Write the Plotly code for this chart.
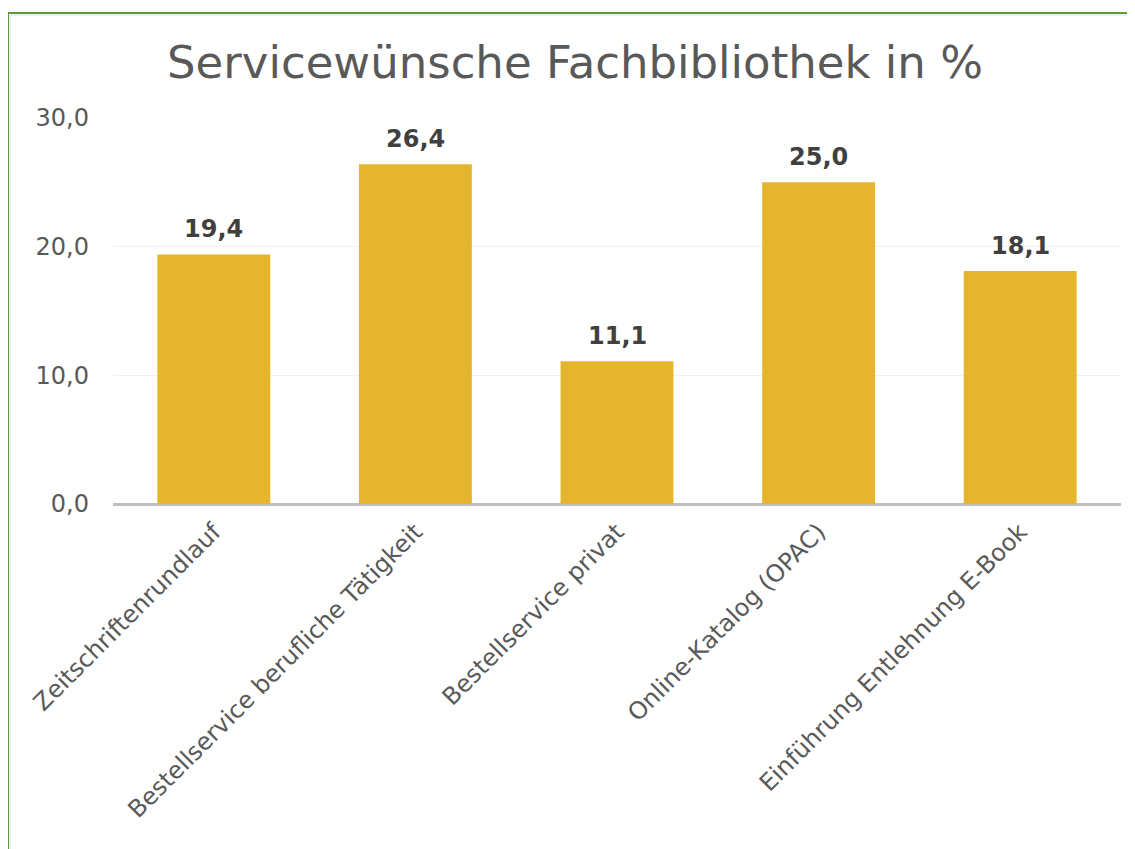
import plotly.graph_objects as go

categories = ["Zeitschriftenrundlauf", "Bestellservice berufliche Tätigkeit",
              "Bestellservice privat", "Online-Katalog (OPAC)", "Einführung Entlehnung E-Book"]
values = [19.4, 26.4, 11.1, 25.0, 18.1]
tick_vals = [0, 10, 20, 30]

FONT = "DejaVu Sans"
OFF = 8  # page body margin
W, H = 1135 - OFF, 849 - OFF
L, R, T, B = 113 - OFF, 22 - OFF, 118 - OFF, 849 - 504
PW, PH = W - L - R, H - T - B

fig = go.Figure(go.Bar(
    x=categories, y=values, width=0.56,
    marker=dict(color="#e6b52e", line=dict(width=0)),
))

for c, v in zip(categories, values):
    fig.add_annotation(x=c, y=v, text=f"{v:.1f}".replace(".", ","), showarrow=False,
                       yanchor="bottom", yshift=9,
                       font=dict(family=FONT, size=24, color="#404040", weight="bold"))

fig.update_layout(
    width=W, height=H,
    margin=dict(l=L, r=R, t=T, b=B),
    paper_bgcolor="white", plot_bgcolor="white",
    separators=",.",
    showlegend=False,
    title=dict(text="Servicewünsche Fachbibliothek in %", x=(575 - OFF - L) / PW, xref="paper",
               xanchor="center", y=1 - (62 - OFF) / H, yanchor="middle",
               font=dict(family=FONT, size=45, color="#595959")),
    xaxis=dict(tickangle=-45, tickfont=dict(family=FONT, size=24, color="#595959"),
               showline=False, ticks="", showgrid=False, ticklabelstandoff=8),
    yaxis=dict(range=[0, 30], tickvals=tick_vals, tickformat=".1f",
               tickfont=dict(family=FONT, size=24, color="#595959"),
               showgrid=True, gridcolor="#f0f0f0", gridwidth=1,
               zeroline=True, zerolinecolor="#bfbfbf", zerolinewidth=3,
               showline=False, ticks="", ticklabelstandoff=23),
)

# frame: green border top and left with faint inner shadow
def px_x(x):
    return (x - OFF - L) / PW

def px_y(y):
    return (H - B - (y - OFF)) / PH

fig.add_shape(type="line", xref="paper", yref="paper",
              x0=px_x(8), x1=1.2, y0=px_y(13), y1=px_y(13),
              line=dict(color="#5b9a3d", width=2))
fig.add_shape(type="line", xref="paper", yref="paper",
              x0=px_x(8), x1=px_x(8), y0=px_y(13), y1=-1.5,
              line=dict(color="#5b9a3d", width=2))
fig.add_shape(type="line", xref="paper", yref="paper",
              x0=px_x(10), x1=1.2, y0=px_y(15), y1=px_y(15),
              line=dict(color="#e0e0e0", width=1))
fig.add_shape(type="line", xref="paper", yref="paper",
              x0=px_x(10), x1=px_x(10), y0=px_y(15), y1=-1.5,
              line=dict(color="#e0e0e0", width=1))

fig.write_html("out.html")
